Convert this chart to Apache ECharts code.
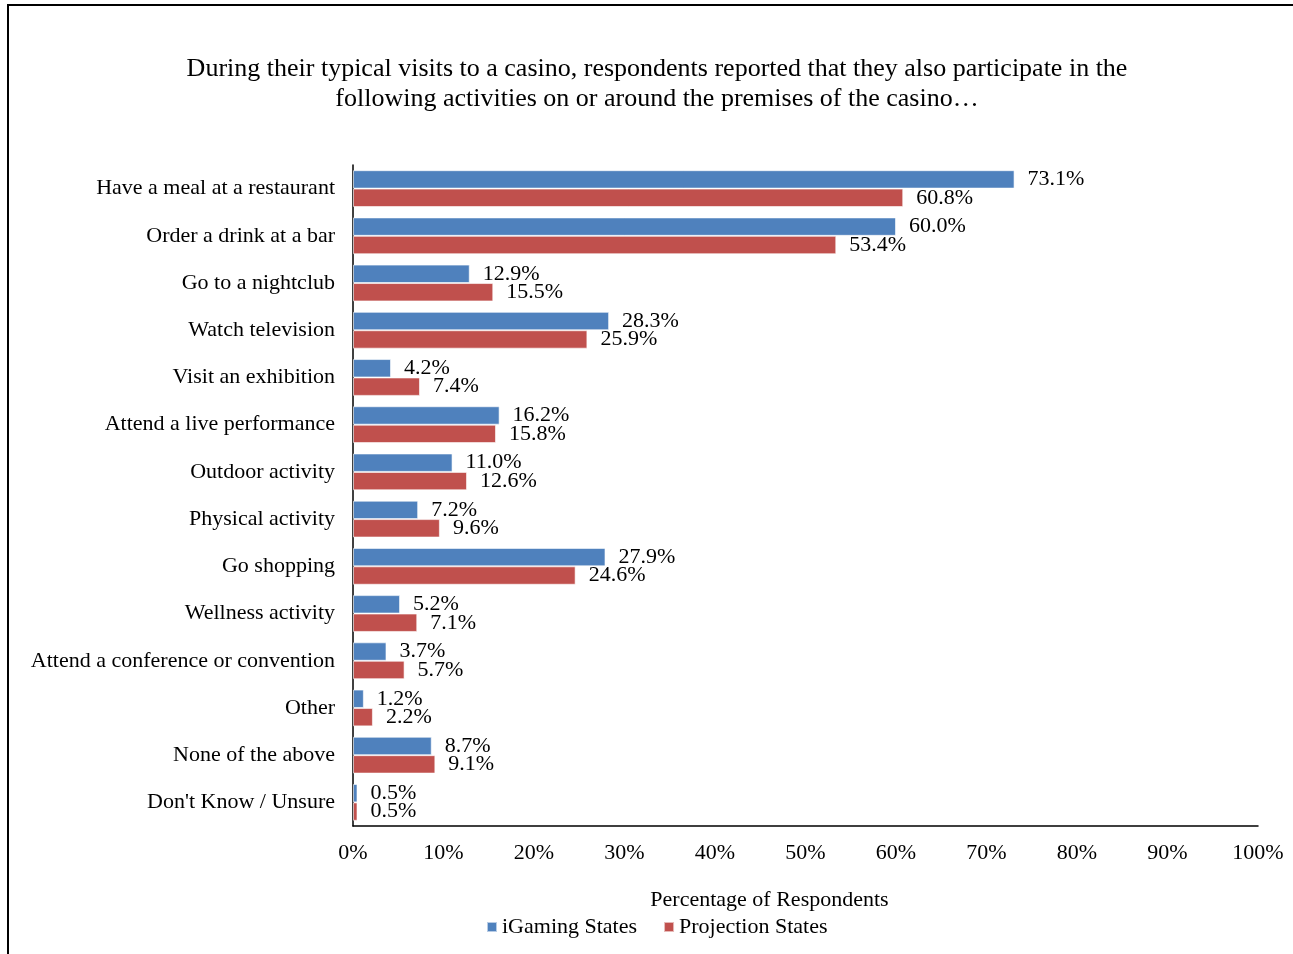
<!DOCTYPE html>
<html>
<head>
<meta charset="utf-8">
<script src="https://cdn.jsdelivr.net/npm/echarts@6/dist/echarts.min.js"></script>
<style>
  html, body { margin: 0; padding: 0; background: #fff; }
  #chart { width: 1293px; height: 954px; }
</style>
</head>
<body>
<div id="chart"></div>
<script>
// Activities reported around casino visits (percent of respondents)
const categories = [
  'Have a meal at a restaurant',
  'Order a drink at a bar',
  'Go to a nightclub',
  'Watch television',
  'Visit an exhibition',
  'Attend a live performance',
  'Outdoor activity',
  'Physical activity',
  'Go shopping',
  'Wellness activity',
  'Attend a conference or convention',
  'Other',
  'None of the above',
  "Don't Know / Unsure"
];
const igamingStates = [73.1, 60.0, 12.9, 28.3, 4.2, 16.2, 11.0, 7.2, 27.9, 5.2, 3.7, 1.2, 8.7, 0.5];
const projectionStates = [60.8, 53.4, 15.5, 25.9, 7.4, 15.8, 12.6, 9.6, 24.6, 7.1, 5.7, 2.2, 9.1, 0.5];
const seriesNames = ['iGaming States', 'Projection States'];
const xTicks = [0, 10, 20, 30, 40, 50, 60, 70, 80, 90, 100];

const FONT = '"Liberation Serif", "Times New Roman", serif';
const BLUE = '#4F81BD';
const RED = '#C0504D';

const chart = echarts.init(document.getElementById('chart'));

function barSeries(name, data, color) {
  return {
    name: name,
    type: 'bar',
    data: data,
    barGap: '0%',
    barCategoryGap: '22%',
    itemStyle: { color: color, borderColor: 'rgba(255,255,255,0.6)', borderWidth: 1 },
    label: {
      show: true,
      position: 'right',
      distance: 13,
      color: '#000',
      fontFamily: FONT,
      fontSize: 22,
      formatter: p => p.value.toFixed(1) + '%'
    }
  };
}

chart.setOption({
  animation: false,
  backgroundColor: '#fff',
  textStyle: { fontFamily: FONT, color: '#000' },
  graphic: [{
    type: 'rect',
    shape: { x: 8, y: 5, width: 1400, height: 1100 },
    style: { fill: 'none', stroke: '#000', lineWidth: 2 },
    silent: true,
    z: 100
  }],
  title: {
    text: 'During their typical visits to a casino, respondents reported that they also participate in the\nfollowing activities on or around the premises of the casino…',
    left: 652,
    textAlign: 'center',
    top: 49,
    textStyle: {
      fontFamily: FONT,
      fontSize: 26,
      fontWeight: 'normal',
      lineHeight: 30,
      color: '#000'
    }
  },
  legend: {
    data: seriesNames,
    left: 481,
    top: 911,
    itemWidth: 10,
    itemHeight: 10,
    itemGap: 26,
    icon: 'rect',
    textStyle: { fontFamily: FONT, fontSize: 22, color: '#000' }
  },
  grid: {
    left: 353,
    right: 35,
    top: 165,
    bottom: 128
  },
  xAxis: {
    type: 'value',
    min: xTicks[0],
    max: xTicks[xTicks.length - 1],
    interval: 10,
    name: 'Percentage of Respondents',
    nameLocation: 'middle',
    nameGap: 63,
    nameTextStyle: { fontFamily: FONT, fontSize: 22, color: '#000', padding: [0, 72, 0, 0] },
    splitLine: { show: false },
    axisLine: { show: true, lineStyle: { color: '#000', width: 1.5 } },
    axisTick: { show: false },
    axisLabel: {
      margin: 16,
      fontFamily: FONT,
      fontSize: 22,
      color: '#000',
      formatter: v => v + '%'
    }
  },
  yAxis: {
    type: 'category',
    data: categories,
    inverse: true,
    axisLine: { show: true, lineStyle: { color: '#000', width: 1.5 } },
    axisTick: { show: false },
    axisLabel: {
      margin: 18,
      fontFamily: FONT,
      fontSize: 22,
      color: '#000'
    }
  },
  series: [
    barSeries(seriesNames[0], igamingStates, BLUE),
    barSeries(seriesNames[1], projectionStates, RED)
  ]
});
</script>
</body>
</html>
